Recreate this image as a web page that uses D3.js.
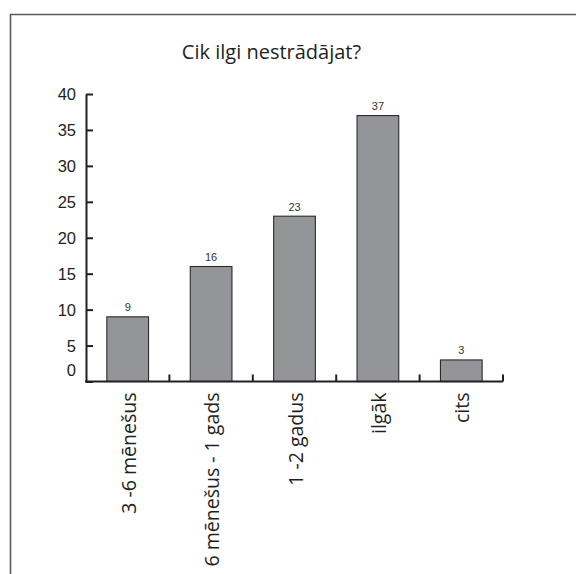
<!DOCTYPE html>
<html>
<head>
<meta charset="utf-8">
<script src="https://cdn.jsdelivr.net/npm/d3@7"></script>
<style>
  html, body { margin: 0; padding: 0; background: #fff; }
  svg { display: block; }
</style>
</head>
<body>
<svg id="chart" width="576" height="574"></svg>
<script>
// Survey: how long respondents have been out of work
const categories = ["3 -6 mēnešus", "6 mēnešus - 1 gads", "1 -2 gadus", "ilgāk", "cits"];
const counts = [9, 16, 23, 37, 3];
const yTicks = [0, 5, 10, 15, 20, 25, 30, 35, 40];
const title = "Cik ilgi nestrādājat?";

const svg = d3.select("#chart");
const plotLeft = 86, plotRight = 503, plotTop = 94, plotBottom = 381.5;

// Outer frame (runs off the right and bottom edges)
svg.append("path")
  .attr("d", "M10.5,600 L10.5,14.5 L600,14.5")
  .attr("fill", "none")
  .attr("stroke", "#5a5a5a")
  .attr("stroke-width", 1.6);

svg.append("text")
  .attr("x", 271.5)
  .attr("y", 59)
  .attr("text-anchor", "middle")
  .attr("font-family", "'Open Sans', 'Noto Sans', sans-serif")
  .attr("font-size", 20)
  .attr("fill", "#231f20")
  .text(title);

const x = d3.scaleBand().domain(categories).range([plotLeft, plotRight]).paddingInner(0.5).paddingOuter(0.25);
const y = d3.scaleLinear().domain([0, 40]).range([plotBottom, plotTop]);

// Bars
svg.append("g").selectAll("rect")
  .data(categories)
  .join("rect")
  .attr("x", d => x(d))
  .attr("y", (d, i) => y(counts[i]))
  .attr("width", x.bandwidth())
  .attr("height", (d, i) => y(0) - y(counts[i]))
  .attr("fill", "#939598")
  .attr("stroke", "#2b2b2b")
  .attr("stroke-width", 1.1);

// Value labels
svg.append("g").selectAll("text")
  .data(categories)
  .join("text")
  .attr("x", d => x(d) + x.bandwidth() / 2)
  .attr("y", (d, i) => y(counts[i]) - 5.5)
  .attr("text-anchor", "middle")
  .attr("font-family", "'Liberation Sans', Arial, sans-serif")
  .attr("font-size", 11)
  .attr("fill", "#333")
  .text((d, i) => counts[i]);

// Y axis with inward ticks
const yAxis = svg.append("g")
  .attr("transform", `translate(${plotLeft},0)`)
  .call(d3.axisRight(y).tickValues(yTicks).tickSize(7).tickSizeOuter(0).tickFormat(""));
yAxis.select(".domain").attr("stroke", "#231f20").attr("stroke-width", 2);
yAxis.selectAll(".tick line").attr("stroke", "#231f20").attr("stroke-width", 2);

// Tick labels; the zero sits a little above the baseline
svg.append("g").selectAll("text")
  .data(yTicks)
  .join("text")
  .attr("x", plotLeft - 10)
  .attr("y", d => y(d) - (d === 0 ? 11 : 0))
  .attr("dy", "0.36em")
  .attr("text-anchor", "end")
  .attr("font-family", "'Liberation Sans', Arial, sans-serif")
  .attr("font-size", 16.5)
  .attr("fill", "#231f20")
  .text(d => d);

// X axis: ticks at category boundaries, pointing up
const boundaries = categories.map((d, i) => plotLeft + (i + 1) * (plotRight - plotLeft) / categories.length);
svg.append("line")
  .attr("x1", plotLeft - 1).attr("x2", plotRight)
  .attr("y1", plotBottom).attr("y2", plotBottom)
  .attr("stroke", "#231f20").attr("stroke-width", 2);
svg.append("g").selectAll("line")
  .data(boundaries)
  .join("line")
  .attr("x1", d => d).attr("x2", d => d)
  .attr("y1", plotBottom).attr("y2", plotBottom - 7)
  .attr("stroke", "#231f20").attr("stroke-width", 2);

// Rotated category labels
svg.append("g").selectAll("text")
  .data(categories)
  .join("text")
  .attr("transform", d => `translate(${x(d) + x.bandwidth() / 2 + 8},${plotBottom + 11}) rotate(-90)`)
  .attr("text-anchor", "end")
  .attr("font-family", "'Open Sans', 'Noto Sans', sans-serif")
  .attr("font-size", 19.5)
  .attr("fill", "#231f20")
  .text(d => d);
</script>
</body>
</html>
